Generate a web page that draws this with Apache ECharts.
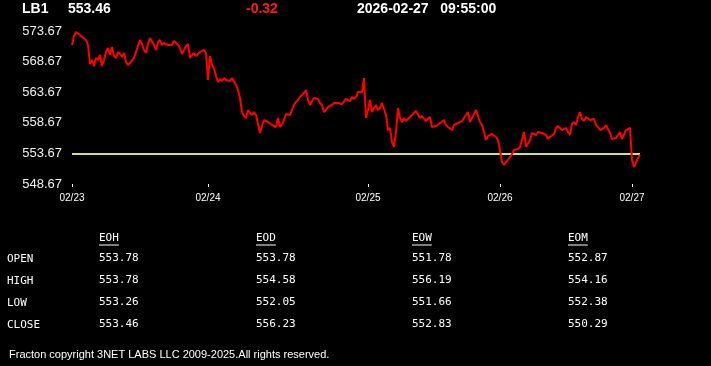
<!DOCTYPE html>
<html>
<head>
<meta charset="utf-8">
<script src="https://cdn.jsdelivr.net/npm/echarts@6/dist/echarts.min.js"></script>
<style>
html,body{margin:0;padding:0;background:#000;}
#chart{width:711px;height:366px;}
</style>
</head>
<body>
<div id="chart"></div>
<script>
// ---- header ----
var ticker = 'LB1';
var lastPrice = '553.46';
var change = '-0.32';
var dateText = '2026-02-27';
var timeText = '09:55:00';

// ---- axis ----
var dayLabels = ['02/23', '02/24', '02/25', '02/26', '02/27'];
var yTicks = [548.67, 553.67, 558.67, 563.67, 568.67, 573.67];
var refLevel = 553.67;

// ---- price series, one array per session day ----
var day1 = [571.38, 572.85, 573.51, 573.67, 573.02, 572.69, 572.85, 572.20, 571.38, 568.28,
  568.93, 567.95, 569.26, 568.93, 569.75, 567.95, 568.93, 570.24, 570.89, 569.75,
  571.06, 569.59, 569.26, 570.24, 569.91, 569.42, 570.08, 568.60, 568.11, 568.44,
  568.28, 569.26, 570.24, 571.22, 572.20, 571.55, 570.57, 570.08, 571.55, 572.53,
  572.85, 571.38, 570.57, 571.87, 572.20, 571.38, 571.71, 571.71, 571.38, 571.55,
  571.38, 572.04, 572.20, 571.38, 570.89, 569.91, 569.59, 571.22, 571.55, 569.26,
  569.75, 570.08, 569.59, 569.75, 570.24, 570.40, 570.57, 570.08];
var day2 = [565.66, 569.59, 568.11, 567.62, 566.32, 565.34, 565.83, 565.50, 565.99, 565.66,
  565.83, 565.50, 565.99, 565.83, 564.85, 564.03, 562.72, 560.43, 559.78, 559.45,
  560.76, 560.27, 559.94, 560.43, 559.94, 559.62, 557.00, 558.15, 559.13, 558.96,
  558.80, 558.64, 558.31, 558.15, 557.98, 559.45, 557.98, 558.47, 559.13, 560.11,
  560.43, 559.94, 560.76, 561.58, 562.07, 562.40, 562.89, 563.05, 563.54, 564.03,
  562.40, 561.58, 562.23, 562.72, 562.89, 562.56, 561.91, 561.58, 560.43, 560.76,
  561.25, 561.25, 561.58, 561.91, 561.91, 561.91, 562.07, 561.74, 561.58, 562.56,
  562.72, 562.23, 562.89, 562.56, 562.89, 563.70, 563.70, 563.70, 565.99, 559.45];
var day3 = [560.76, 562.40, 560.43, 561.09, 561.58, 560.76, 561.09, 561.91, 561.74, 559.94,
  557.49, 557.82, 555.53, 554.72, 557.17, 561.09, 559.45, 558.80, 559.45, 558.96,
  559.13, 559.62, 559.78, 560.27, 560.60, 560.43, 559.45, 559.78, 559.94, 558.96,
  558.80, 559.62, 557.98, 557.98, 558.15, 558.15, 558.64, 558.96, 559.13, 558.31,
  557.98, 557.66, 557.49, 558.31, 558.47, 558.64, 558.80, 558.96, 559.45, 559.94,
  560.43, 558.80, 559.45, 560.11, 560.76, 559.78, 558.80, 558.31, 557.17, 555.86,
  556.51, 556.68, 556.84, 556.68, 556.35, 555.86];
var day4 = [554.23, 552.26, 551.77, 552.26, 552.59, 553.08, 553.57, 554.23, 554.55, 554.39,
  554.72, 555.86, 557.17, 554.72, 555.04, 555.86, 557.00, 556.84, 556.68, 557.17,
  557.00, 557.00, 556.84, 556.68, 556.02, 556.35, 556.51, 556.84, 557.82, 558.15,
  558.31, 557.49, 557.33, 557.82, 557.17, 556.68, 558.47, 558.80, 558.31, 559.62,
  560.43, 559.29, 558.96, 559.62, 559.45, 559.13, 559.29, 559.29, 558.31, 557.98,
  557.49, 557.33, 557.82, 558.31, 557.66, 557.00, 556.02, 555.70, 556.19, 556.68,
  557.17, 556.02, 555.86, 557.49, 557.66, 557.82];
var day5 = [552.59, 551.45, 551.77, 552.92, 553.46];

// ---- table ----
var tableCols = ['EOH', 'EOD', 'EOW', 'EOM'];
var rowLabels = ['OPEN', 'HIGH', 'LOW', 'CLOSE'];
var eoh = ['553.78', '553.78', '553.26', '553.46'];
var eod = ['553.78', '554.58', '552.05', '556.23'];
var eow = ['551.78', '556.19', '551.66', '552.83'];
var eom = ['552.87', '554.16', '552.38', '550.29'];
var footer = 'Fracton copyright 3NET LABS LLC 2009-2025.All rights reserved.';

// ---- build ----
var days = [day1, day2, day3, day4, day5];
var categories = [];
var prices = [];
var dayStarts = {};
days.forEach(function (d, di) {
  dayStarts[categories.length] = dayLabels[di];
  d.forEach(function (v, k) {
    categories.push(dayLabels[di] + ' ' + k);
    prices.push(v);
  });
});
function isDayStart(idx) { return dayStarts.hasOwnProperty(idx); }

var chart = echarts.init(document.getElementById('chart'), null, {renderer: 'canvas'});

var sans = 'Liberation Sans, Arial, sans-serif';
var mono = '"DejaVu Sans Mono", "Liberation Mono", monospace';
var graphics = [];
function txt(x, y, s, fill, font, align) {
  graphics.push({type: 'text', x: x, y: y, silent: true,
    style: {text: s, fill: fill, font: font, align: align || 'left', verticalAlign: 'middle'}});
}
txt(22, 9, ticker, '#ffffff', 'bold 14px ' + sans);
txt(68, 9, lastPrice, '#ffffff', 'bold 14px ' + sans);
txt(246, 9, change, '#ff1a1a', 'bold 14px ' + sans);
txt(357, 9, dateText + '   ' + timeText, '#ffffff', 'bold 14px ' + sans);

var colX = [99, 256, 412, 568];
var colData = [eoh, eod, eow, eom];
var rowY = [258, 280, 302, 324];
tableCols.forEach(function (c, ci) {
  txt(colX[ci], 238, c, '#ffffff', '11px ' + mono);
  graphics.push({type: 'line', silent: true,
    shape: {x1: colX[ci], y1: 245, x2: colX[ci] + c.length * 6.6, y2: 245},
    style: {stroke: '#ffffff', lineWidth: 1}});
  colData[ci].forEach(function (v, ri) {
    txt(colX[ci], rowY[ri], v, '#ffffff', '11px ' + mono);
  });
});
rowLabels.forEach(function (r, ri) {
  txt(7, rowY[ri] + 1, r, '#ffffff', '11px ' + mono);
});
txt(9, 355, footer, '#ffffff', '11px ' + sans);

chart.setOption({
  backgroundColor: '#000000',
  animation: false,
  grid: {left: 72, right: 71, top: 31, bottom: 182},
  xAxis: {
    type: 'category',
    data: categories,
    boundaryGap: false,
    axisLine: {show: false},
    axisTick: {show: true, interval: isDayStart, length: 3, lineStyle: {color: '#ffffff', width: 1}},
    axisLabel: {
      interval: isDayStart,
      margin: 9,
      color: '#ffffff',
      fontSize: 10,
      fontFamily: sans,
      formatter: function (v) { return v.split(' ')[0]; }
    },
    splitLine: {show: false}
  },
  yAxis: {
    type: 'value',
    min: yTicks[0],
    max: yTicks[yTicks.length - 1],
    interval: 5,
    axisLine: {show: false},
    axisTick: {show: false},
    splitLine: {show: false},
    axisLabel: {
      color: '#f0f0f0', fontSize: 13, fontFamily: sans, margin: 10,
      formatter: function (v) { return v.toFixed(2); }
    }
  },
  series: [{
    type: 'line',
    data: prices,
    showSymbol: false,
    symbol: 'none',
    lineStyle: {color: '#ff0000', width: 2},
    z: 3,
    markLine: {
      silent: true,
      symbol: ['none', 'none'],
      label: {show: false},
      lineStyle: {color: '#cfe07a', width: 2, type: 'solid'},
      data: [{yAxis: refLevel}],
      z: 2
    }
  }],
  graphic: graphics
});
</script>
</body>
</html>
